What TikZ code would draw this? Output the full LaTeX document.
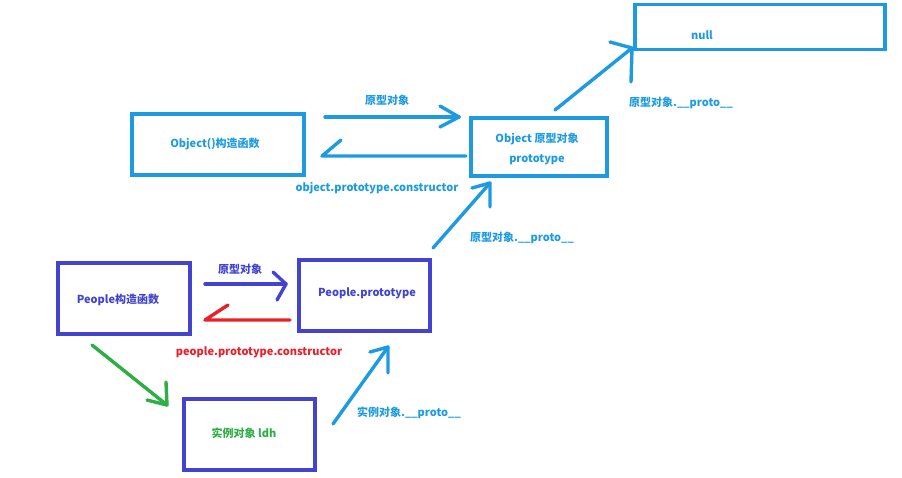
\documentclass[tikz,border=0pt]{standalone}
\usepackage{fontspec}
\setmainfont{Noto Sans CJK SC}
\definecolor{cyanb}{HTML}{1E9BE0}
\definecolor{purb}{HTML}{4343D0}
\definecolor{grn}{HTML}{2EAE45}
\definecolor{redc}{HTML}{E8202A}
\begin{document}
\begin{tikzpicture}[x=1pt,y=-1pt,
  box/.style={draw,line width=3.6pt,rectangle,inner sep=0pt},
  lbl/.style={font=\fontsize{11}{13}\selectfont\bfseries,inner sep=0pt,anchor=center},
  arr/.style={line width=3.4pt,line cap=round,line join=round}]
\useasboundingbox (0,0) rectangle (902,477);
% boxes
\node[box,cyanb,minimum width=250pt,minimum height=45pt] (null) at (760,27) {};
\node[box,cyanb,minimum width=172pt,minimum height=61pt] (obj) at (218,144.5) {};
\node[box,cyanb,minimum width=136pt,minimum height=58pt] (objp) at (539,147) {};
\node[box,purb,minimum width=132pt,minimum height=71pt] (ppl) at (124,298.5) {};
\node[box,purb,minimum width=131pt,minimum height=71pt] (pplp) at (364.5,295.5) {};
\node[box,purb,minimum width=131pt,minimum height=71pt] (ldh) at (249.5,434.5) {};
% box texts
\node[lbl,cyanb] (tnull) at (702,35) {null};
\node[lbl,cyanb] (tobj) at (215,144) {Object()构造函数};
\node[lbl,cyanb] (tobjp1) at (537,139) {Object 原型对象};
\node[lbl,cyanb] (tobjp2) at (537,160) {prototype};
\node[lbl,purb] (tppl) at (118,300) {People构造函数};
\node[lbl,purb] (tpplp) at (367,293) {People.prototype};
\node[lbl,grn] (tldh) at (244,433) {实例对象 ldh};
% edge labels
\node[lbl,cyanb] (l1) at (387,100) {原型对象};
\node[lbl,cyanb] (l2) at (377,188) {object.prototype.constructor};
\node[lbl,cyanb] (l3) at (681,103) {原型对象.\_\_proto\_\_};
\node[lbl,cyanb] (l4) at (522,238) {原型对象.\_\_proto\_\_};
\node[lbl,purb] (l5) at (240,269) {原型对象};
\node[lbl,redc] (l6) at (259,352) {people.prototype.constructor};
\node[lbl,cyanb] (l7) at (409,413) {实例对象.\_\_proto\_\_};
% connector coordinates
\coordinate (a1s) at (325,117); \coordinate (a1t) at (459,117);
\coordinate (a1b1) at (440,106); \coordinate (a1b2) at (440,127);
\coordinate (a2s) at (466,156); \coordinate (a2t) at (322,156);
\coordinate (a2b1) at (341,140);
\coordinate (a3s) at (555,110); \coordinate (a3t) at (632,48);
\coordinate (a3b1) at (610,42); \coordinate (a3b2) at (631,82);
\coordinate (a4s) at (433,248); \coordinate (a4t) at (490,183);
\coordinate (a4b1) at (472,188); \coordinate (a4b2) at (490,207);
\coordinate (a5s) at (205,284); \coordinate (a5t) at (286,284);
\coordinate (a5b1) at (273,272); \coordinate (a5b2) at (277,300);
\coordinate (a6s) at (290,320); \coordinate (a6t) at (205,320);
\coordinate (a6b1) at (228,305);
\coordinate (a7s) at (92,345); \coordinate (a7t) at (167,405);
\coordinate (a7b1) at (147,400); \coordinate (a7b2) at (166,382);
\coordinate (a8s) at (333,424); \coordinate (a8t) at (388,347);
\coordinate (a8b1) at (370,352); \coordinate (a8b2) at (388,373);
% connectors
\draw[arr,cyanb] (a1s) -- (a1t); \draw[arr,cyanb] (a1b1) -- (a1t) -- (a1b2);
\draw[arr,cyanb] (a2s) -- (a2t) -- (a2b1);
\draw[arr,cyanb] (a3s) -- (a3t); \draw[arr,cyanb] (a3b1) -- (a3t) -- (a3b2);
\draw[arr,cyanb] (a4s) -- (a4t); \draw[arr,cyanb] (a4b1) -- (a4t) -- (a4b2);
\draw[arr,purb] (a5s) -- (a5t); \draw[arr,purb] (a5b1) -- (a5t) -- (a5b2);
\draw[arr,redc] (a6s) -- (a6t) -- (a6b1);
\draw[arr,grn] (a7s) -- (a7t); \draw[arr,grn] (a7b1) -- (a7t) -- (a7b2);
\draw[arr,cyanb] (a8s) -- (a8t); \draw[arr,cyanb] (a8b1) -- (a8t) -- (a8b2);
\end{tikzpicture}
\end{document}
